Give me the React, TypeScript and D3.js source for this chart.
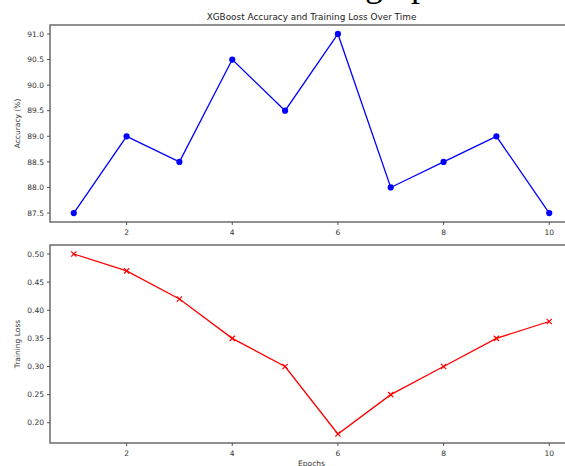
import React from "react";
import * as d3 from "d3";

// Two stacked panels: accuracy per epoch (top) and training loss (bottom).
const epochs = [1, 2, 3, 4, 5, 6, 7, 8, 9, 10];
const accuracy = [87.5, 89.0, 88.5, 90.5, 89.5, 91.0, 88.0, 88.5, 89.0, 87.5];
const trainingLoss = [0.5, 0.47, 0.42, 0.35, 0.3, 0.18, 0.25, 0.3, 0.35, 0.38];
const xTicks = [2, 4, 6, 8, 10];
const accTicks = [87.5, 88.0, 88.5, 89.0, 89.5, 90.0, 90.5, 91.0];
const lossTicks = [0.2, 0.25, 0.3, 0.35, 0.4, 0.45, 0.5];

const W = 565;
const H = 466;
const FONT = "DejaVu Sans, sans-serif";
const left = 50;
const right = 573;

function pad([a, b]: [number, number]): [number, number] {
  const m = (b - a) * 0.05;
  return [a - m, b + m];
}

const x = d3.scaleLinear().domain(pad([1, 10])).range([left, right]);

type PanelProps = {
  top: number;
  bottom: number;
  values: number[];
  ticks: number[];
  fmt: (v: number) => string;
  label: string;
  color: string;
  marker: "o" | "x";
  xLabel?: string;
};

function Panel({ top, bottom, values, ticks, fmt, label, color, marker, xLabel }: PanelProps) {
  const y = d3
    .scaleLinear()
    .domain(pad(d3.extent(values) as [number, number]))
    .range([bottom, top]);
  const line = d3
    .line<number>()
    .x((_, i) => x(epochs[i]))
    .y((d) => y(d));
  const midY = (top + bottom) / 2;

  return (
    <g>
      <path d={line(values) || ""} fill="none" stroke={color} strokeWidth={1.3} />
      {values.map((v, i) =>
        marker === "o" ? (
          <circle key={i} cx={x(epochs[i])} cy={y(v)} r={3.1} fill={color} />
        ) : (
          <path
            key={i}
            d={`M${x(epochs[i]) - 2.6},${y(v) - 2.6}L${x(epochs[i]) + 2.6},${y(v) + 2.6}M${x(epochs[i]) - 2.6},${y(v) + 2.6}L${x(epochs[i]) + 2.6},${y(v) - 2.6}`}
            stroke={color}
            strokeWidth={1.2}
          />
        )
      )}
      <rect
        x={left}
        y={top}
        width={right - left}
        height={bottom - top}
        fill="none"
        stroke="#6b6b6b"
        strokeWidth={1.5}
      />
      {ticks.map((t) => (
        <g key={t}>
          <line x1={left - 3} x2={left} y1={y(t)} y2={y(t)} stroke="#444" strokeWidth={0.9} />
          <text
            x={left - 6}
            y={y(t)}
            dy="0.35em"
            textAnchor="end"
            fontSize={7.5}
            fontFamily={FONT}
            fill="#333"
          >
            {fmt(t)}
          </text>
        </g>
      ))}
      {xTicks.map((t) => (
        <g key={t}>
          <line x1={x(t)} x2={x(t)} y1={bottom} y2={bottom + 3} stroke="#444" strokeWidth={0.9} />
          <text
            x={x(t)}
            y={bottom + 10}
            dy="0.35em"
            textAnchor="middle"
            fontSize={7.5}
            fontFamily={FONT}
            fill="#333"
          >
            {t}
          </text>
        </g>
      ))}
      <text
        transform={`translate(17,${midY}) rotate(-90)`}
        dy="0.35em"
        textAnchor="middle"
        fontSize={7.5}
        fontFamily={FONT}
        fill="#333"
      >
        {label}
      </text>
      {xLabel && (
        <text
          x={(left + right) / 2}
          y={bottom + 20}
          dy="0.35em"
          textAnchor="middle"
          fontSize={7.5}
          fontFamily={FONT}
          fill="#333"
        >
          {xLabel}
        </text>
      )}
    </g>
  );
}

export default function App() {
  return (
    <div style={{ position: "fixed", left: 0, top: 0, width: W, height: H, overflow: "hidden", background: "#fff" }}>
      <svg width={W} height={H} style={{ display: "block" }}>
        <rect width={W} height={H} fill="#fff" />
        {/* cut-off heading from the page above the figure */}
        <text x={365} y={-4} fontSize={36} fontFamily="Liberation Serif, serif" fill="#000">
          graph
        </text>
        <text
          x={(left + right) / 2}
          y={17}
          dy="0.35em"
          textAnchor="middle"
          fontSize={8.9}
          fontFamily={FONT}
          fill="#222"
        >
          XGBoost Accuracy and Training Loss Over Time
        </text>
        <Panel
          top={25}
          bottom={222}
          values={accuracy}
          ticks={accTicks}
          fmt={d3.format(".1f")}
          label="Accuracy (%)"
          color="#0000ff"
          marker="o"
        />
        <Panel
          top={245}
          bottom={443}
          values={trainingLoss}
          ticks={lossTicks}
          fmt={d3.format(".2f")}
          label="Training Loss"
          color="#ff0000"
          marker="x"
          xLabel="Epochs"
        />
      </svg>
    </div>
  );
}
